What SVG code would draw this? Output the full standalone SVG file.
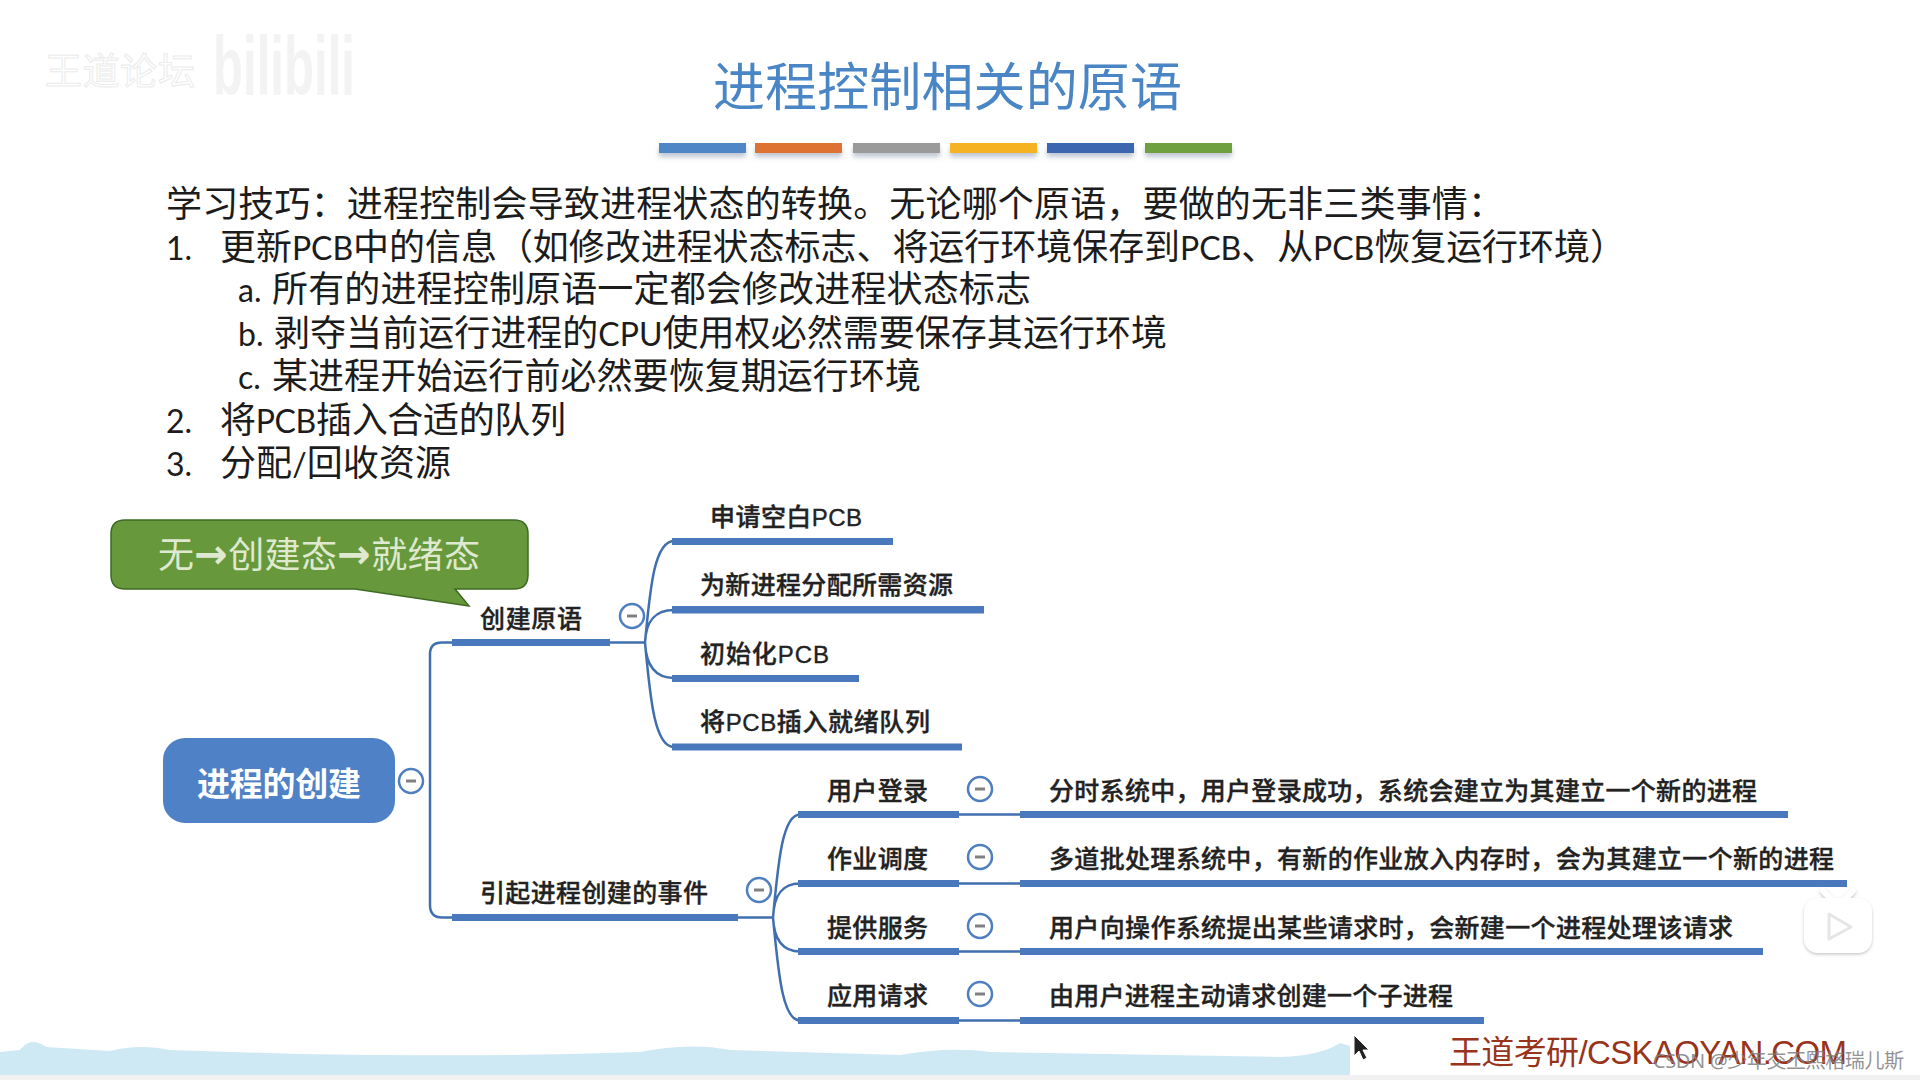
<svg xmlns="http://www.w3.org/2000/svg" width="1920" height="1080" viewBox="0 0 1920 1080">
<defs>
<style>
text{font-family:"Noto Sans","Noto Sans CJK SC",sans-serif}
.t{font-size:36px;fill:#1c1c1c}
.l{font-size:32px;font-family:Lato,"Noto Sans",sans-serif}
.m{font-size:25px;font-weight:500;fill:#222;stroke:#222;stroke-width:.35}
.p{font-size:24px;font-family:"Liberation Sans",sans-serif}
.bar{fill:#4a78bd}
.thin{fill:none;stroke:#3f6fae;stroke-width:2.5}
.c{fill:#fff;stroke:#4f7fbf;stroke-width:2.5}
.d{stroke:#808080;stroke-width:3}
</style>
<filter id="sh" x="-10%" y="-50%" width="120%" height="250%"><feDropShadow dx="0" dy="4" stdDeviation="2.5" flood-color="#7f8ea8" flood-opacity=".5"/></filter>
<filter id="soft" x="-20%" y="-20%" width="140%" height="140%"><feDropShadow dx="0" dy="1.5" stdDeviation="1.5" flood-color="#999" flood-opacity=".55"/></filter>
</defs>
<rect width="1920" height="1080" fill="#fff"/>
<path d="M0 1052 L20 1050 C28 1040 36 1040 46 1047 L110 1051 C130 1046 150 1046 170 1050 L300 1054 C420 1056 520 1056 640 1052 C670 1046 700 1044 730 1050 L900 1055 C930 1050 960 1048 990 1052 L1280 1057 C1310 1056 1330 1050 1340 1043 L1350 1046 V1075 H0Z" fill="#cfe9f4"/>
<rect y="1075" width="1920" height="5" fill="#f1f1f1"/>
<g id="watermark">
<text x="45" y="85" font-size="37" fill="#fff" stroke="#ebebeb" stroke-width="1" textLength="150">王道论坛</text>
<text x="213" y="95" font-size="84" font-weight="700" fill="#f3f3f3" style="font-family:'Liberation Sans',sans-serif" textLength="142" lengthAdjust="spacingAndGlyphs">bilibili</text>
</g>
<g id="title"><text x="713" y="106" font-size="52" fill="#4a86c5" textLength="469">进程控制相关的原语</text></g>
<g id="bars" filter="url(#sh)">
<rect x="659" y="143" width="87" height="10" fill="#4f86c6"/>
<rect x="755" y="143" width="87" height="10" fill="#dd7233"/>
<rect x="853" y="143" width="87" height="10" fill="#9a9a9a"/>
<rect x="950" y="143" width="87" height="10" fill="#f5b223"/>
<rect x="1047" y="143" width="87" height="10" fill="#3d66b0"/>
<rect x="1145" y="143" width="87" height="10" fill="#6ea03f"/>
</g>
<g id="body">
<text class="t" x="166" y="217" textLength="1338">学习技巧&#xFF1A;进程控制会导致进程状态的转换。无论哪个原语&#xFF0C;要做的无非三类事情&#xFF1A;</text>
<text class="t" x="166" y="260"><tspan class="l">1.</tspan></text>
<text class="t" x="220" y="260" textLength="1406">更新<tspan class="l">PCB</tspan>中的信息&#xFF08;如修改进程状态标志、将运行环境保存到<tspan class="l">PCB</tspan>、从<tspan class="l">PCB</tspan>恢复运行环境&#xFF09;</text>
<text class="t" x="238" y="302"><tspan class="l">a.</tspan></text>
<text class="t" x="272" y="302" textLength="759">所有的进程控制原语一定都会修改进程状态标志</text>
<text class="t" x="238" y="346"><tspan class="l">b.</tspan></text>
<text class="t" x="274" y="346" textLength="893">剥夺当前运行进程的<tspan class="l">CPU</tspan>使用权必然需要保存其运行环境</text>
<text class="t" x="238" y="389"><tspan class="l">c.</tspan></text>
<text class="t" x="272" y="389" textLength="649">某进程开始运行前必然要恢复期运行环境</text>
<text class="t" x="166" y="433"><tspan class="l">2.</tspan></text>
<text class="t" x="220" y="433" textLength="346">将<tspan class="l">PCB</tspan>插入合适的队列</text>
<text class="t" x="166" y="476"><tspan class="l">3.</tspan></text>
<text class="t" x="220" y="476" textLength="231">分配<tspan class="l">/</tspan>回收资源</text>
</g>
<g id="connectors">
<path class="thin" d="M452 642.5 H442 Q430 642.5 430 654 V905 Q430 917.5 442 917.5 H452"/>
<path class="thin" d="M610 642.5 H645"/>
<path class="thin" d="M645 642.5 C650 590 654 541 674 541 M645 642.5 C646 622 654 610 674 610 M645 642.5 C646 664 654 678 674 678 M645 642.5 C650 695 654 747 674 747"/>
<path class="thin" d="M738 917.5 H773"/>
<path class="thin" d="M773 917.5 C778 865 782 814.5 800 814.5 M773 917.5 C774 895 782 883.5 800 883.5 M773 917.5 C774 939 782 951.5 800 951.5 M773 917.5 C778 969 782 1020.5 800 1020.5"/>
<path class="thin" d="M959 814.5 H1020 M959 883.5 H1020 M959 951.5 H1020 M959 1020.5 H1020"/>
</g>
<g id="callout">
<path d="M125 520 H514 Q528 520 528 534 V575 Q528 589 514 589 H455 L469 606 L355 589 H125 Q111 589 111 575 V534 Q111 520 125 520Z" fill="#67983b" stroke="#3f6a22" stroke-width="1.5"/>
<text x="158" y="568" font-size="36" fill="#dfe9cf" textLength="322">无<tspan font-size="40" font-weight="700" style="font-family:'DejaVu Sans',sans-serif">→</tspan>创建态<tspan font-size="40" font-weight="700" style="font-family:'DejaVu Sans',sans-serif">→</tspan>就绪态</text>
</g>
<g id="root">
<rect x="163" y="738" width="232" height="85" rx="22" fill="#4f81c7"/>
<text x="197" y="796" font-size="33" font-weight="700" fill="#fff" textLength="164">进程的创建</text>
<circle class="c" cx="411" cy="781" r="12"/><path class="d" d="M406 781H416"/>
</g>
<g id="n-create">
<text class="m" x="480" y="628" textLength="102">创建原语</text>
<rect class="bar" x="452" y="639" width="158" height="7"/>
<circle class="c" cx="632" cy="616" r="12"/><path class="d" d="M627 616H637"/>
</g>
<g id="n-create1"><text class="m" x="710" y="526" textLength="152">申请空白<tspan class="p">PCB</tspan></text><rect class="bar" x="672" y="538" width="221" height="7"/></g>
<g id="n-create2"><text class="m" x="700" y="594" textLength="253">为新进程分配所需资源</text><rect class="bar" x="672" y="606" width="312" height="7.5"/></g>
<g id="n-create3"><text class="m" x="700" y="663" textLength="129">初始化<tspan class="p">PCB</tspan></text><rect class="bar" x="672" y="675" width="187" height="7"/></g>
<g id="n-create4"><text class="m" x="700" y="731" textLength="230">将<tspan class="p">PCB</tspan>插入就绪队列</text><rect class="bar" x="672" y="743.5" width="290" height="7"/></g>
<g id="n-events">
<text class="m" x="480" y="902" textLength="228">引起进程创建的事件</text>
<rect class="bar" x="452" y="914" width="286" height="7"/>
<circle class="c" cx="759" cy="890" r="12"/><path class="d" d="M754 890H764"/>
</g>
<g id="n-login">
<text class="m" x="827" y="800" textLength="101">用户登录</text><rect class="bar" x="798" y="811" width="161" height="7"/>
<circle class="c" cx="980" cy="789" r="12"/><path class="d" d="M975 789H985"/>
<text class="m" x="1049" y="800" textLength="708">分时系统中&#xFF0C;用户登录成功&#xFF0C;系统会建立为其建立一个新的进程</text><rect class="bar" x="1020" y="811" width="768" height="7"/>
</g>
<g id="n-sched">
<text class="m" x="827" y="868" textLength="101">作业调度</text><rect class="bar" x="798" y="880" width="161" height="7"/>
<circle class="c" cx="980" cy="857" r="12"/><path class="d" d="M975 857H985"/>
<text class="m" x="1049" y="868" textLength="785">多道批处理系统中&#xFF0C;有新的作业放入内存时&#xFF0C;会为其建立一个新的进程</text><rect class="bar" x="1020" y="880" width="827" height="7"/>
</g>
<g id="n-service">
<text class="m" x="827" y="937" textLength="101">提供服务</text><rect class="bar" x="798" y="948" width="161" height="7"/>
<circle class="c" cx="980" cy="926" r="12"/><path class="d" d="M975 926H985"/>
<text class="m" x="1049" y="937" textLength="684">用户向操作系统提出某些请求时&#xFF0C;会新建一个进程处理该请求</text><rect class="bar" x="1020" y="948" width="743" height="7"/>
</g>
<g id="n-app">
<text class="m" x="827" y="1005" textLength="101">应用请求</text><rect class="bar" x="798" y="1017" width="161" height="7"/>
<circle class="c" cx="980" cy="994" r="12"/><path class="d" d="M975 994H985"/>
<text class="m" x="1049" y="1005" textLength="404">由用户进程主动请求创建一个子进程</text><rect class="bar" x="1020" y="1017" width="464" height="7"/>
</g>
<g id="player" filter="url(#soft)">
<path d="M1823 891 L1831 899 M1853 891 L1845 899" stroke="#fff" stroke-width="6" stroke-linecap="round" fill="none"/>
<rect x="1804" y="898" width="68" height="55" rx="14" fill="#fff"/>
</g>
<path d="M1829 914 L1851 927 L1829 939Z" fill="#fff" stroke="#e6e6e6" stroke-width="3" stroke-linejoin="round"/>
<path id="cursor" d="M1354 1035 V1056 L1359 1051 L1363 1060 L1367 1058 L1363 1050 L1369 1050Z" fill="#222" stroke="#fff" stroke-width="1"/>
<text id="brand" x="1449" y="1064" font-size="33" fill="#98331c" textLength="398">王道考研<tspan style="font-family:'Liberation Sans',sans-serif">/CSKAOYAN.COM</tspan></text>
<text id="csdn" x="1653" y="1068" font-size="20" fill="#808080" fill-opacity=".85" textLength="251">CSDN @少年交丕熙格瑞儿斯</text>
</svg>
